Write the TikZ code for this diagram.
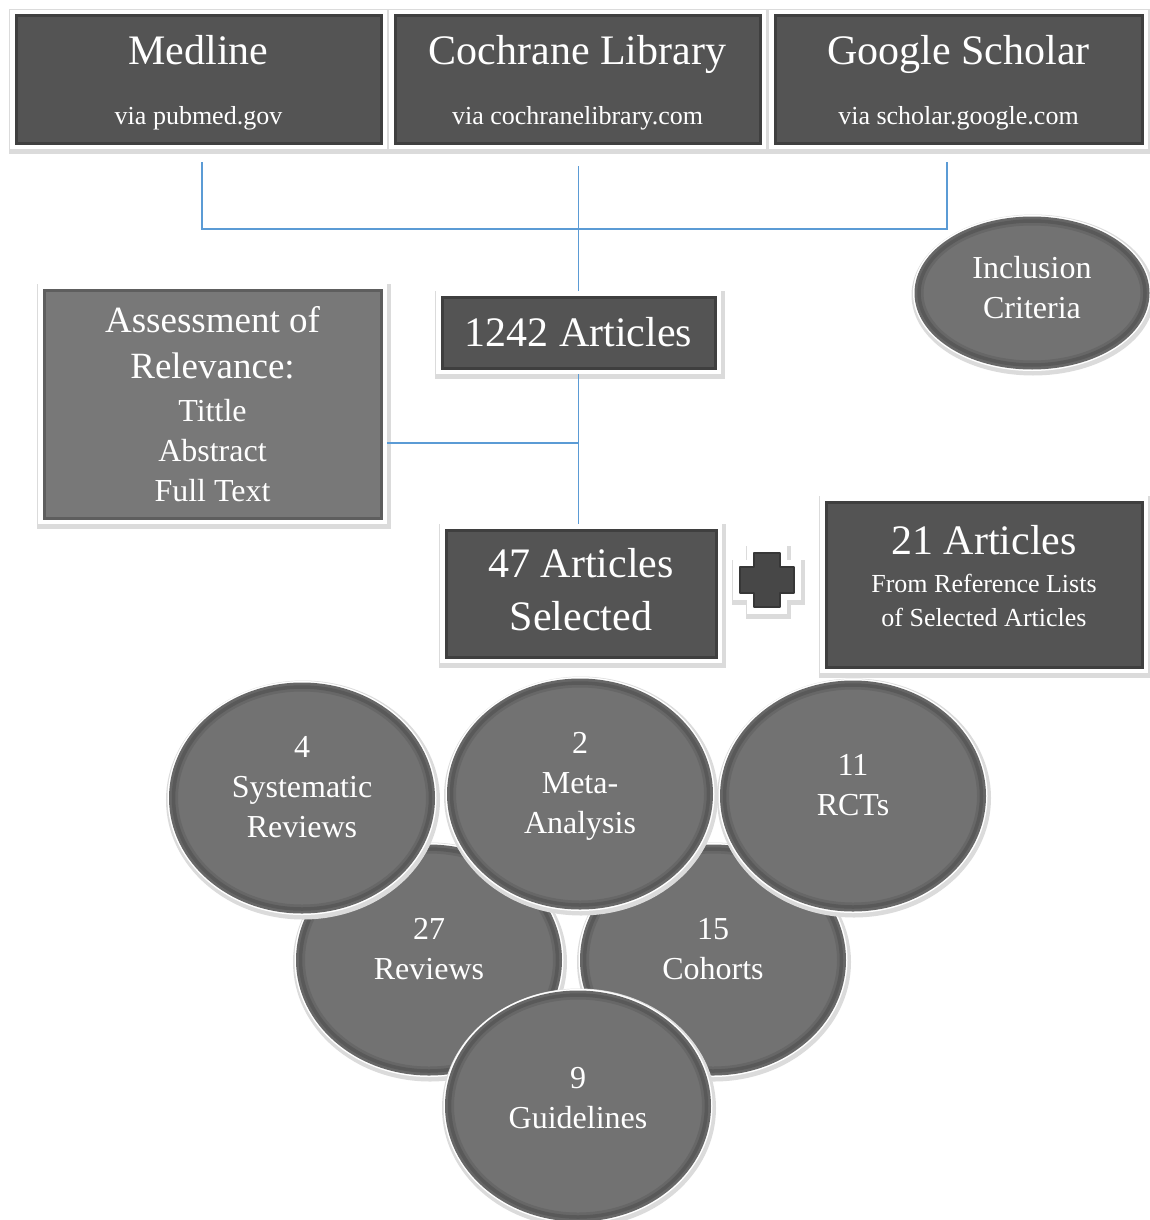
\documentclass[tikz,border=0pt]{standalone}
\usepackage{fontspec}
\setmainfont{Liberation Serif}
\usetikzlibrary{positioning, shapes.geometric, shadows, calc}

\definecolor{boxdark}{RGB}{84,84,84}
\definecolor{boxmid}{RGB}{120,120,120}
\definecolor{ovalgray}{RGB}{114,114,114}
\definecolor{linkblue}{RGB}{91,155,213}

\tikzset{
	base/.style={text=white, align=center, inner sep=0pt, outer sep=6pt,
		general shadow={draw=black!14, line width=17pt, shadow xshift=1pt, shadow yshift=-2pt},
		preaction={draw=white, line width=12pt}},
	darkbox/.style={base, rectangle, fill=boxdark, postaction={draw=boxdark!75!black, line width=3pt}},
	midbox/.style={base, rectangle, fill=boxmid, postaction={draw=boxmid!78!black, line width=3pt}},
	oval/.style={base, ellipse, fill=ovalgray, minimum width=257pt, minimum height=222pt,
		postaction={draw=ovalgray!90!black, line width=9pt}, postaction={draw=ovalgray!78!black, line width=3.5pt},
		font=\fontsize{32}{40}\selectfont, text depth=22pt},
	link/.style={draw=linkblue, line width=1.2pt},
}

\begin{document}
\begin{tikzpicture}[x=1pt, y=-1pt]
	
	\useasboundingbox (0,0) rectangle (1150,1220);
	
	%//sources
	\node[darkbox, minimum width=365pt, minimum height=127pt, font=\fontsize{42}{60}\selectfont, text depth=0pt] (medline) at (198.5,79.5)
	{Medline\\\fontsize{26}{30}\selectfont via pubmed.gov};
	\node[darkbox, minimum width=365pt, minimum height=127pt, font=\fontsize{42}{60}\selectfont, text depth=0pt] (cochrane) at (577.5,79.5)
	{Cochrane Library\\\fontsize{26}{30}\selectfont via cochranelibrary.com};
	\node[darkbox, minimum width=367pt, minimum height=127pt, font=\fontsize{42}{60}\selectfont, text depth=0pt] (google) at (958.5,79.5)
	{Google Scholar\\\fontsize{26}{30}\selectfont via scholar.google.com};
	
	\node[oval, minimum width=226pt, minimum height=144pt, text depth=11pt] (incl) at (1032,293) {Inclusion\\Criteria};
	
	\node[darkbox, minimum width=273pt, minimum height=71pt, font=\fontsize{42}{50}\selectfont] (art1242) at (578.5,332.5) {1242 Articles};
	
	\node[midbox, minimum width=337pt, minimum height=228pt, font=\fontsize{37}{40}\selectfont] (assess) at (212.5,404)
	{Assessment of\\[6pt]Relevance:\\[3pt]\fontsize{32}{40}\selectfont Tittle\\\fontsize{32}{40}\selectfont Abstract\\\fontsize{32}{40}\selectfont Full Text};
	
	\node[darkbox, minimum width=270pt, minimum height=127pt, font=\fontsize{42}{53}\selectfont, text depth=8pt] (art47) at (581,593.5)
	{47 Articles\\Selected};
	
	\node[darkbox, minimum width=316pt, minimum height=165pt, font=\fontsize{42}{34}\selectfont, text depth=18pt] (art21) at (984,584.5)
	{21 Articles\\[4pt]\fontsize{26}{34}\selectfont From Reference Lists\\\fontsize{26}{34}\selectfont of Selected Articles};
	
	%//plus sign
	\coordinate (plus) at (767,580);
	\path[line join=round, general shadow={draw=black!14, line width=19pt, shadow xshift=1pt, shadow yshift=-2pt},
		preaction={draw=white, line width=14pt}, fill=boxdark!85!black,
		postaction={draw=boxdark!65!black, line width=2pt}]
	(plus) ++(-13,-27) -- ++(26,0) -- ++(0,14) -- ++(14,0) -- ++(0,26) -- ++(-14,0) -- ++(0,14)
	-- ++(-26,0) -- ++(0,-14) -- ++(-14,0) -- ++(0,-26) -- ++(14,0) -- cycle;
	
	%//study types
	\foreach \nm/\cx/\cy/\tdepth/\txt in {rev/429/960/22/{27\\Reviews}, coh/713/960/22/{15\\Cohorts},
		sys/302/798/22/{4\\Systematic\\Reviews}, meta/580/794/22/{2\\Meta-\\Analysis},
		rct/853/796/22/{11\\RCTs}, guide/578/1106/16/{9\\Guidelines}}
	\node[oval, text depth=\tdepth pt] (\nm) at (\cx,\cy) {\txt};
	
	%//connectors
	\coordinate (hub) at (578,229);
	\draw[link] ([xshift=3.5pt,yshift=-13pt]medline.south) |- (hub) -| ([xshift=-11.5pt,yshift=-13pt]google.south);
	\draw[link] (art1242.north) -- ++(0,-125);
	\draw[link] (art1242.south) -- (art1242.south |- art47.north);
	\coordinate (relev) at ([yshift=-39pt]assess.east);
	\draw[link] (relev) -- (relev -| art1242.south);
	
\end{tikzpicture}
\end{document}
